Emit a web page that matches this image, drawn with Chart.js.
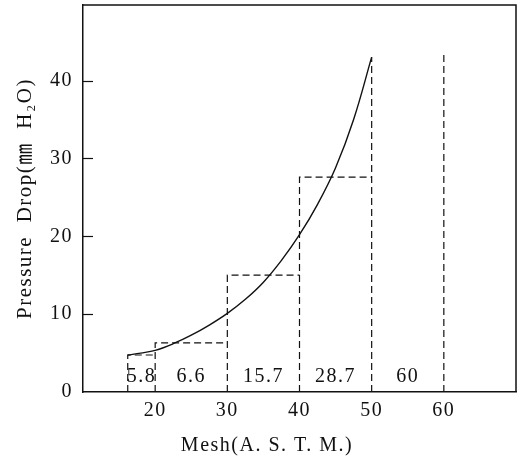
<!DOCTYPE html>
<html><head><meta charset="utf-8">
<script src="https://cdn.jsdelivr.net/npm/chart.js@4/dist/chart.umd.min.js"></script>
<style>html,body{margin:0;padding:0;background:#fff}#wrap{width:526px;height:459px;position:relative}</style>
</head><body><div id="wrap"><canvas id="c"></canvas></div>
<script>
// ---- data ----
const curveMesh = [16.2, 18, 20, 22.5, 25, 27.5, 30, 32.5, 35, 37.5, 40, 42.5, 45, 47.5, 50];
const curveDrop = [4.75, 5.0, 5.35, 6.2, 7.3, 8.6, 10.1, 11.9, 14.1, 16.9, 20.2, 24.1, 28.8, 35, 43];
const stepEdges = [16.2, 20, 30, 40, 50];
const stepHeights = [4.75, 6.3, 15, 27.6];
const dividerMesh = [50, 60];
const dividerTop = [43, 43.6];
const binBounds = [16.2, 20, 30, 40, 50, 60];
const binLabels = ['5.8', '6.6', '15.7', '28.7', '60'];
const binLabelLevel = 2;
const xTicks = [20, 30, 40, 50, 60];
const yTicks = [0, 10, 20, 30, 40];
const xTitle = 'Mesh(A. S. T. M.)';
const yTitle = 'Pressure  Drop(\u339C  H\u2082O)';

const FONT = "'Liberation Serif', 'Noto Sans CJK JP', serif";
const INK = '#111';

// build datasets from arrays
const curvePts = curveMesh.map((x, i) => ({x, y: curveDrop[i]}));
const stepPts = [];
stepHeights.forEach((h, i) => {
  stepPts.push({x: stepEdges[i], y: 0}, {x: stepEdges[i], y: h}, {x: stepEdges[i + 1], y: h}, {x: stepEdges[i + 1], y: null});
});
dividerMesh.forEach((m, i) => {
  stepPts.push({x: m, y: 0}, {x: m, y: dividerTop[i]}, {x: m + 0.001, y: null});
});

const spacing = {
  id: 'spacing',
  beforeUpdate(chart) { chart.ctx.letterSpacing = '1.5px'; },
  beforeLayout(chart) { chart.ctx.letterSpacing = '1.5px'; },
  beforeDraw(chart) { chart.ctx.letterSpacing = '1.5px'; }
};

const decor = {
  id: 'decor',
  afterDraw(chart) {
    const ctx = chart.ctx, a = chart.chartArea, xs = chart.scales.x, ys = chart.scales.y;
    ctx.save();
    ctx.strokeStyle = INK;
    ctx.lineWidth = 1.5;
    // frame top & right
    ctx.beginPath();
    ctx.moveTo(a.left, a.top); ctx.lineTo(a.right, a.top); ctx.lineTo(a.right, a.bottom);
    ctx.stroke();
    // inward y ticks
    ctx.lineWidth = 1.2;
    yTicks.forEach(v => {
      if (v === 0) return;
      const y = Math.round(ys.getPixelForValue(v)) + 0.5;
      ctx.beginPath(); ctx.moveTo(a.left, y); ctx.lineTo(a.left + 10, y); ctx.stroke();
    });
    // bin labels
    ctx.fillStyle = INK;
    ctx.font = '20px ' + FONT;
    ctx.letterSpacing = '1.5px';
    ctx.textAlign = 'center';
    ctx.textBaseline = 'middle';
    binLabels.forEach((t, i) => {
      const mx = (binBounds[i] + binBounds[i + 1]) / 2;
      ctx.fillText(t, xs.getPixelForValue(mx), ys.getPixelForValue(binLabelLevel));
    });
    // x title
    ctx.fillText(xTitle, xs.getPixelForValue(35.5), 446);
    ctx.restore();
  }
};

new Chart(document.getElementById('c'), {
  type: 'line',
  data: {
    datasets: [
      {data: curvePts, borderColor: INK, borderWidth: 1.4, pointRadius: 0, tension: 0.4, fill: false},
      {data: stepPts, borderColor: INK, borderWidth: 1.2, borderDash: [7, 4], pointRadius: 0, spanGaps: false, tension: 0, fill: false}
    ]
  },
  options: {
    responsive: true,
    maintainAspectRatio: false,
    animation: false,
    events: [],
    layout: {padding: {left: 0, right: 10, top: 5, bottom: 0}},
    plugins: {legend: {display: false}, tooltip: {enabled: false}},
    scales: {
      x: {
        type: 'linear', min: 10, max: 70,
        afterBuildTicks: s => { s.ticks = xTicks.map(v => ({value: v})); },
        afterFit: s => { s.height = 67; s.paddingLeft = 0; s.paddingRight = 0; },
        grid: {display: false, drawTicks: false},
        border: {display: true, color: INK, width: 1.5},
        ticks: {color: INK, font: {family: FONT, size: 20}, padding: 7, maxRotation: 0, autoSkip: false},
        title: {display: false, text: xTitle}
      },
      y: {
        type: 'linear', min: 0, max: 49.7,
        afterBuildTicks: s => { s.ticks = yTicks.map(v => ({value: v})); },
        afterFit: s => { s.width = 83; s.paddingTop = 0; s.paddingBottom = 0; },
        grid: {display: false, drawTicks: false},
        border: {display: true, color: INK, width: 1.5},
        ticks: {color: INK, font: {family: FONT, size: 20}, padding: 10, autoSkip: false},
        title: {display: true, text: yTitle, color: INK, font: {family: FONT, size: 21}, padding: {top: 13, bottom: 0}}
      }
    }
  },
  plugins: [spacing, decor]
});
</script>
</body></html>
